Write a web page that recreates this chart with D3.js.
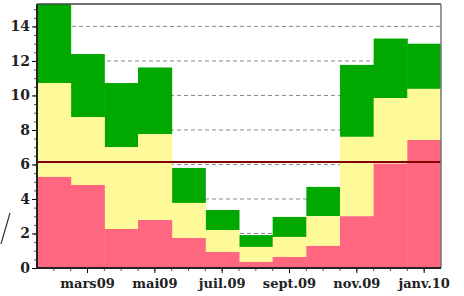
<!DOCTYPE html>
<html>
<head>
<meta charset="utf-8">
<script src="https://cdn.jsdelivr.net/npm/d3@7"></script>
<style>
  body { margin: 0; background: #fff; }
  svg { display: block; }
  .axis text { font-family: "DejaVu Serif", "Liberation Serif", serif; font-weight: bold; fill: #222; }
</style>
</head>
<body>
<div class="chart"></div>
<script>
// months shown as bars (feb 2009 -> jan 2010)
const months = ["févr.09", "mars09", "avr.09", "mai09", "juin09", "juil.09",
                "août09", "sept.09", "oct.09", "nov.09", "déc.09", "janv.10"];
const monthLabels = ["mars09", "mai09", "juil.09", "sept.09", "nov.09", "janv.10"];

// top of each coloured layer (cumulative level)
const lowTop  = [5.28, 4.81, 2.26, 2.78, 1.74, 0.93, 0.35, 0.64, 1.28, 3.0, 6.05, 7.42];
const midTop  = [10.72, 8.75, 7.0, 7.76, 3.77, 2.2, 1.22, 1.8, 3.0, 7.6, 9.85, 10.38];
const highTop = [15.6, 12.4, 10.72, 11.62, 5.8, 3.36, 1.91, 2.96, 4.7, 11.77, 13.3, 13.0];

const refLevel = 6.14;
const yTicks = [0, 2, 4, 6, 8, 10, 12, 14];

let margin = { top: 4, right: 23, bottom: 28, left: 37 },
    width = 464 - margin.left - margin.right,
    height = 296 - margin.top - margin.bottom;

let root = d3.select(".chart")
    .append("svg")
    .attr("width", 464)
    .attr("height", 296);

// stray stroke at the far left of the original
root.append("line")
    .attr("x1", 10).attr("y1", 213)
    .attr("x2", 1).attr("y2", 244)
    .attr("stroke", "#333")
    .attr("stroke-width", 1.2);

let svg = root.append("g")
    .attr("transform", `translate(${margin.left},${margin.top})`);

svg.append("defs").append("clipPath")
    .attr("id", "clip")
    .append("rect")
    .attr("width", width)
    .attr("height", height);

let xScale = d3.scaleBand()
    .domain(months)
    .range([0, width])
    .padding(0);

let yScale = d3.scaleLinear()
    .domain([0, 15.3])
    .range([height, 0]);

// dashed grid
svg.append("g")
    .selectAll("line")
    .data(yTicks.slice(1))
    .join("line")
    .attr("x1", 0).attr("x2", width)
    .attr("y1", d => yScale(d)).attr("y2", d => yScale(d))
    .attr("stroke", "#888")
    .attr("stroke-width", 1)
    .attr("stroke-dasharray", "4,3");

// layers: pink at bottom, yellow, green on top
const layers = [
    { color: "#00a800", lo: midTop, hi: highTop },
    { color: "#fffa99", lo: lowTop, hi: midTop },
    { color: "#ff6680", lo: months.map(() => 0), hi: lowTop }
];

let bars = svg.append("g").attr("clip-path", "url(#clip)");
layers.forEach(layer => {
    bars.append("g")
        .selectAll("rect")
        .data(months)
        .join("rect")
        .attr("x", d => xScale(d))
        .attr("width", xScale.bandwidth() + 0.5)
        .attr("y", (d, i) => yScale(layer.hi[i]))
        .attr("height", (d, i) => yScale(layer.lo[i]) - yScale(layer.hi[i]))
        .attr("fill", layer.color);
});

// reference line
svg.append("line")
    .attr("x1", 0).attr("x2", width)
    .attr("y1", yScale(refLevel)).attr("y2", yScale(refLevel))
    .attr("stroke", "#800000")
    .attr("stroke-width", 2);

// frame
svg.append("line").attr("x1", 0).attr("x2", width).attr("y1", 0).attr("y2", 0)
    .attr("stroke", "#444").attr("stroke-width", 1.5);
svg.append("line").attr("x1", width).attr("x2", width).attr("y1", 0).attr("y2", height)
    .attr("stroke", "#777").attr("stroke-width", 1.5);

// y axis with minor ticks
let yMinor = d3.axisLeft(yScale)
    .tickValues(d3.range(0, 15.01, 0.5))
    .tickSize(3)
    .tickFormat("");
svg.append("g").attr("class", "axis").call(yMinor)
    .call(g => g.select(".domain").remove())
    .selectAll("line").attr("stroke", "#555");

let yAxis = d3.axisLeft(yScale)
    .tickValues(yTicks)
    .tickSize(5)
    .tickPadding(2)
    .tickFormat(d3.format("d"));
let yAxisGroup = svg.append("g").attr("class", "axis").call(yAxis);
yAxisGroup.selectAll("text").style("font-size", "14px");
yAxisGroup.select(".domain").remove();
svg.append("line").attr("x1", 0).attr("x2", 0).attr("y1", 0).attr("y2", height + 1)
    .attr("stroke", "#222").attr("stroke-width", 2);

// x axis: minor ticks every half month, labels every other month
let xMinor = svg.append("g").attr("transform", `translate(0,${height})`);
xMinor.selectAll("line")
    .data(d3.range(1, months.length * 2))
    .join("line")
    .attr("x1", d => d * xScale.bandwidth() / 2)
    .attr("x2", d => d * xScale.bandwidth() / 2)
    .attr("y1", 0).attr("y2", 3)
    .attr("stroke", "#555");

let xAxis = d3.axisBottom(xScale)
    .tickValues(monthLabels)
    .tickSize(5)
    .tickPadding(6);
let xAxisGroup = svg.append("g")
    .attr("class", "axis")
    .attr("transform", `translate(0,${height})`)
    .call(xAxis);
xAxisGroup.selectAll("text").style("font-size", "13px");
xAxisGroup.select(".domain").remove();
svg.append("line").attr("x1", 0).attr("x2", width).attr("y1", height).attr("y2", height)
    .attr("stroke", "#222").attr("stroke-width", 2);
</script>
</body>
</html>
